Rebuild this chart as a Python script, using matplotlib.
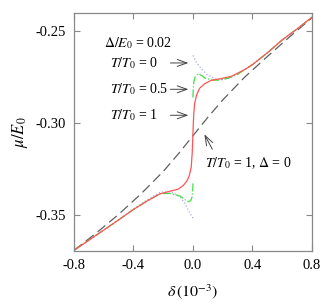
#!/usr/bin/env python3
"""
Chemical potential mu/E0 versus doping delta near the gap (Delta/E0 = 0.02).
Curves for T/T0 = 0, 0.5, 1 and the normal state reference (T/T0 = 1, Delta = 0).
"""
import matplotlib
matplotlib.use('Agg')
import matplotlib.pyplot as plt

# normal state reference, T/T0 = 1, Delta = 0
delta_normal = [-0.8, -0.65, -0.5, -0.35, -0.2, -0.1, 0.0, 0.1, 0.2, 0.35, 0.5, 0.65, 0.8]
mu_normal = [-0.369, -0.3596, -0.3495, -0.3384, -0.3262, -0.3168, -0.3068,
             -0.2968, -0.2874, -0.2748, -0.2638, -0.2531, -0.2428]

# T/T0 = 1
delta_t1 = [-0.8, -0.7, -0.6, -0.5, -0.4, -0.3, -0.22, -0.15, -0.1, -0.065, -0.04,
            -0.025, -0.012, -0.005, 0.0, 0.005, 0.012, 0.025, 0.045, 0.08, 0.12,
            0.19, 0.26, 0.35, 0.4, 0.5, 0.6, 0.7, 0.8]
mu_t1 = [-0.369, -0.3635, -0.358, -0.3525, -0.3468, -0.3418, -0.3383, -0.3368,
         -0.3358, -0.3338, -0.3312, -0.3285, -0.324, -0.316, -0.305, -0.295,
         -0.289, -0.2845, -0.281, -0.2785, -0.2768, -0.2758, -0.2745, -0.2708,
         -0.2682, -0.2618, -0.2548, -0.2488, -0.2425]

# T/T0 = 0.5 (two branches, jump at delta = 0)
delta_t05_lo = [-0.8, -0.7, -0.6, -0.5, -0.4, -0.3, -0.22, -0.155, -0.087, -0.054,
                -0.032, -0.015, -0.006, -0.002, 0.0]
mu_t05_lo = [-0.369, -0.3635, -0.358, -0.3525, -0.3468, -0.3418, -0.3382, -0.3381,
             -0.3395, -0.3415, -0.3426, -0.342, -0.340, -0.337, -0.332]
delta_t05_hi = [0.0, 0.002, 0.006, 0.015, 0.036, 0.06, 0.08, 0.126, 0.17, 0.237,
                0.3, 0.35, 0.4, 0.5, 0.6, 0.7, 0.8]
mu_t05_hi = [-0.286, -0.281, -0.2775, -0.2748, -0.2731, -0.2742, -0.2755, -0.2765,
             -0.2767, -0.2756, -0.2735, -0.2708, -0.2682, -0.2618, -0.2548,
             -0.2488, -0.2425]

# T/T0 = 0 (two branches)
delta_t0_lo = [-0.8, -0.7, -0.6, -0.5, -0.4, -0.3, -0.22, -0.15, -0.087, -0.054,
               -0.032, -0.015, 0.0]
mu_t0_lo = [-0.369, -0.3635, -0.358, -0.3525, -0.3466, -0.3412, -0.3374, -0.3372,
            -0.3399, -0.3435, -0.347, -0.3495, -0.3515]
delta_t0_hi = [0.0, 0.02, 0.047, 0.092, 0.148, 0.193, 0.26, 0.35, 0.4, 0.5, 0.6,
               0.7, 0.8]
mu_t0_hi = [-0.2632, -0.2665, -0.2695, -0.2735, -0.2758, -0.2764, -0.275, -0.2708,
            -0.2682, -0.2618, -0.2548, -0.2488, -0.2425]

x_ticks = [-0.8, -0.4, 0.0, 0.4, 0.8]
y_ticks = [-0.35, -0.30, -0.25]


def make_plot(output_path='out.png'):
    plt.rcParams['font.family'] = 'serif'
    plt.rcParams['font.serif'] = ['Liberation Serif', 'DejaVu Serif']
    plt.rcParams['mathtext.fontset'] = 'stix'
    plt.rcParams['axes.unicode_minus'] = False

    fig = plt.figure(figsize=(3.33, 3.06), dpi=100)
    ax = fig.add_axes([0.222, 0.18, 0.715, 0.7775])

    ax.plot(delta_normal, mu_normal, color='#606060', lw=0.9, dashes=(8, 4))
    ax.plot(delta_t0_lo, mu_t0_lo, color='#a8a8f0', lw=0.9, ls=':')
    ax.plot(delta_t0_hi, mu_t0_hi, color='#a8a8f0', lw=0.9, ls=':')
    ax.plot(delta_t05_lo, mu_t05_lo, color='#44dd44', lw=0.9, ls='-.')
    ax.plot(delta_t05_hi, mu_t05_hi, color='#44dd44', lw=0.9, ls='-.')
    ax.plot(delta_t1, mu_t1, color='#ff5555', lw=0.9)

    ax.set_xlim(-0.8, 0.8)
    ax.set_ylim(-0.3693, -0.2402)
    ax.set_xticks(x_ticks)
    ax.set_xticklabels(['%.1f' % v for v in x_ticks])
    ax.set_yticks(y_ticks)
    ax.set_yticklabels(['%.2f' % v for v in y_ticks])
    ax.tick_params(direction='in', top=True, right=True, length=4, width=0.8,
                   color='#888888', labelsize=10.5, pad=6)
    for sp in ax.spines.values():
        sp.set_color('#888888')
        sp.set_linewidth(0.9)

    ax.set_xlabel(r'$\delta\,(10^{-3})$', fontsize=11.5, labelpad=7)
    ax.set_ylabel(r'$\mu/E_0$', fontsize=12, labelpad=4)

    fs = 10
    ax.text(-0.6, -0.2565, r'$\mathit{\Delta}/E_0$ = 0.02', fontsize=fs, va='center')
    arrow = dict(arrowstyle='->,head_length=0.7,head_width=0.25', color='#444444', lw=0.7)
    labels = [(r'$T/T_0$ = 0', -0.2673), (r'$T/T_0$ = 0.5', -0.2816), (r'$T/T_0$ = 1', -0.2957)]
    for txt, yy in labels:
        ax.text(-0.555, yy, txt, fontsize=fs, va='center')
        ax.annotate('', xy=(-0.012, yy), xytext=(-0.17, yy), arrowprops=arrow)
    ax.annotate('', xy=(0.068, -0.3047), xytext=(0.139, -0.3155), arrowprops=arrow)
    ax.text(0.08, -0.3219, r'$T/T_0$ = 1, $\mathit{\Delta}$ = 0', fontsize=fs, va='center')

    fig.savefig(output_path, dpi=100)
    plt.close(fig)
    return output_path


if __name__ == '__main__':
    make_plot()
